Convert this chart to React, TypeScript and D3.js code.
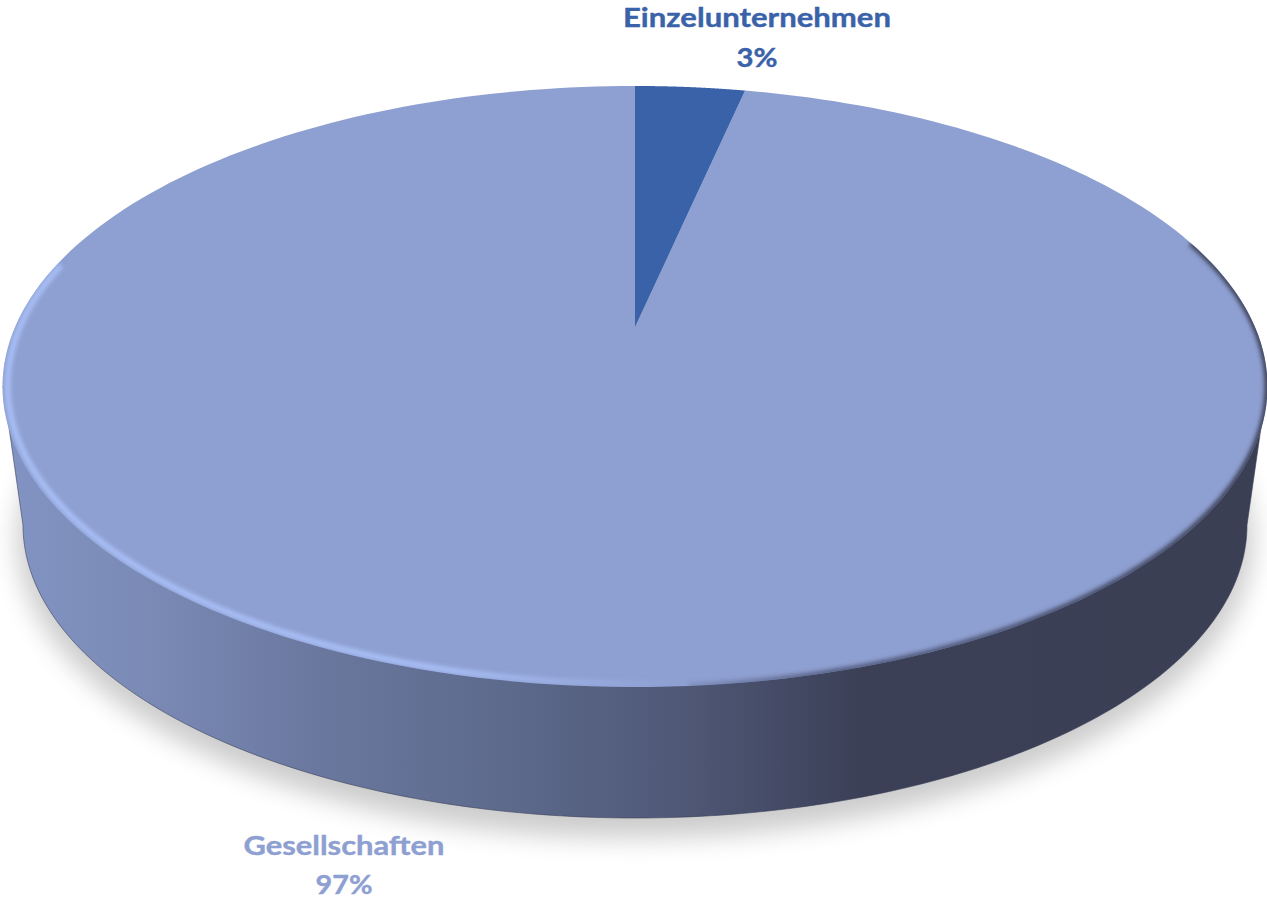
import React from "react";
import * as d3 from "d3";

const categories = ["Einzelunternehmen", "Gesellschaften"];
const values = [3.4, 96.6];
const percentLabels = ["3%", "97%"];
const topColors = ["#3a62a9", "#8e9fd1"];

const W = 1267, H = 900;
const cx = 635, R = 620;
// perspective plane of the pie top: v=-1 -> y 86, v=0 -> y 327, v=1 -> y 687
const pA = 224, pB = 327, pC = -0.198;
function project(theta: number, k = 1): [number, number] {
  const u = k * Math.sin(theta), v = -k * Math.cos(theta);
  const d = 1 + pC * v;
  return [cx + (R * u) / d, (pA * v + pB) / d];
}
const lineGen = d3.line<[number, number]>().x(d => d[0]).y(d => d[1]);
function arcPts(a0: number, a1: number, k = 1, n = 240): [number, number][] {
  return d3.range(n + 1).map(i => project(a0 + ((a1 - a0) * i) / n, k));
}

const pieGen = d3.pie<number>().sort(null).value(d => d);
const arcs = pieGen(values);

function slicePath(a0: number, a1: number) {
  return lineGen([[cx, pB] as [number, number], ...arcPts(a0, a1)]) + "Z";
}

const botRx = 612, botRy = 293, botCy = 525;
const deg = (d: number) => (d * Math.PI) / 180;
const fullTop = lineGen(arcPts(0, 2 * Math.PI)) + "Z";
const sidePath = (() => {
  const pts: [number, number][] = [[3, 386]];
  d3.range(181).forEach(i => {
    const t = Math.PI - deg(i);
    pts.push([cx + botRx * Math.cos(t), botCy + botRy * Math.sin(t)]);
  });
  pts.push([1267, 386]);
  return lineGen(pts) + "Z";
})();

const sideStops: [number, string][] = [
  [0, "#8294c4"],
  [0.12, "#7a8ab5"],
  [0.25, "#6a789f"],
  [0.4, "#5d6a8c"],
  [0.55, "#4e5674"],
  [0.68, "#3b4057"],
  [1, "#3a3f54"],
];
const font = "Lato, 'Noto Sans', sans-serif";

export default function App() {
  const x0 = arcs[0], x1 = arcs[1];
  return (
    <svg width={W} height={H} viewBox={`0 0 ${W} ${H}`}
      style={{ position: "absolute", left: 0, top: 0, display: "block", background: "#fff" }}>
      <defs>
        <linearGradient id="side" gradientUnits="userSpaceOnUse" x1={0} x2={W} y1={0} y2={0}>
          {sideStops.map(([o, c]) => <stop key={o} offset={o} stopColor={c} />)}
        </linearGradient>
        <linearGradient id="hl" gradientUnits="userSpaceOnUse" x1={0} x2={680} y1={0} y2={0}>
          <stop offset={0} stopColor="#a8bff6" />
          <stop offset={0.65} stopColor="#a8bff6" />
          <stop offset={1} stopColor="#a8bff6" stopOpacity={0} />
        </linearGradient>
        <linearGradient id="dk" gradientUnits="userSpaceOnUse" x1={640} x2={1267} y1={0} y2={0}>
          <stop offset={0} stopColor="#50587a" stopOpacity={0} />
          <stop offset={0.3} stopColor="#50587a" stopOpacity={0.9} />
          <stop offset={1} stopColor="#3a3f54" />
        </linearGradient>
        <filter id="sh" x="-10%" y="-10%" width="120%" height="130%"><feGaussianBlur stdDeviation={13} /></filter>
        <filter id="b2" x="-5%" y="-5%" width="110%" height="110%"><feGaussianBlur stdDeviation={2} /></filter>
        <clipPath id="topClip"><path d={fullTop} /></clipPath>
      </defs>

      {/* drop shadow */}
      <ellipse cx={cx} cy={botCy + 14} rx={botRx + 6} ry={botRy + 6} fill="#000" opacity={0.2} filter="url(#sh)" />

      {/* side wall */}
      <path d={sidePath} fill="url(#side)" stroke="#3a4058" strokeWidth={1} strokeOpacity={0.6} />

      {/* top face */}
      <path d={slicePath(x1.startAngle, x1.endAngle)} fill={topColors[1]} />
      <path d={slicePath(x0.startAngle, x0.endAngle)} fill={topColors[0]} />

      {/* bevel */}
      <g clipPath="url(#topClip)">
        <path d={lineGen(arcPts(deg(72), deg(176), 1))!} fill="none" stroke="url(#dk)" strokeWidth={6} filter="url(#b2)" />
        <path d={lineGen(arcPts(deg(176), deg(283), 0.992))!} fill="none" stroke="url(#hl)" strokeWidth={6} filter="url(#b2)" />
      </g>

      {/* labels */}
      <g fontFamily={font} fontWeight={700} textAnchor="middle" fontSize={27}>
        <g fill={topColors[0]} stroke={topColors[0]} strokeWidth={0.4}>
          <text x={757} y={26.5} textLength={268} lengthAdjust="spacingAndGlyphs">{categories[0]}</text>
          <text x={757} y={67} textLength={41} lengthAdjust="spacingAndGlyphs">{percentLabels[0]}</text>
        </g>
        <g fill={topColors[1]} stroke={topColors[1]} strokeWidth={0.4}>
          <text x={344} y={855} textLength={201} lengthAdjust="spacingAndGlyphs">{categories[1]}</text>
          <text x={344} y={894} textLength={57} lengthAdjust="spacingAndGlyphs">{percentLabels[1]}</text>
        </g>
      </g>
    </svg>
  );
}
